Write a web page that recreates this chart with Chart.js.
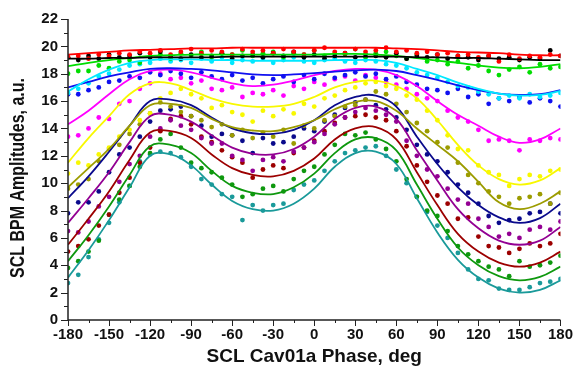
<!DOCTYPE html>
<html>
<head>
<meta charset="utf-8">
<script src="https://cdn.jsdelivr.net/npm/chart.js@4.4.0/dist/chart.umd.min.js"></script>
<style>
  html, body { margin: 0; padding: 0; background: #ffffff; }
  #contenedor { width: 579px; height: 372px; }
</style>
</head>
<body>
<div id="contenedor"><canvas id="grafico" width="579" height="372"></canvas></div>
<script>
// Fase (grados) donde se leen las curvas ajustadas y los puntos medidos
const phaseFit = [-180,-165,-150,-135,-120,-105,-90,-75,-60,-45,-30,-15,0,15,30,45,60,75,90,105,120,135,150,165,180];
const phasePts = [-180,-172.5,-165,-157.5,-150,-142.5,-135,-127.5,-120,-112.5,-105,-97.5,-90,-82.5,-75,-67.5,-60,-52.5,-45,-37.5,-30,-22.5,-15,-7.5,0,7.5,15,22.5,30,37.5,45,52.5,60,67.5,75,82.5,90,97.5,105,112.5,120,127.5,135,142.5,150,157.5,165,172.5,180];

// Curvas ajustadas (amplitud BPM, u.a.)
const fitRed     = [19.4,19.5,19.6,19.7,19.75,19.8,19.85,19.85,19.9,19.9,19.9,19.9,19.9,19.9,19.9,19.9,19.85,19.8,19.7,19.6,19.55,19.5,19.4,19.35,19.35];
const fitBlack   = [19.1,19.1,19.15,19.15,19.2,19.2,19.2,19.2,19.25,19.25,19.25,19.25,19.25,19.25,19.25,19.25,19.25,19.2,19.2,19.15,19.15,19.1,19.05,19.0,19.0];
const fitLime    = [18.55,18.8,19.0,19.15,19.3,19.35,19.4,19.4,19.4,19.4,19.4,19.4,19.4,19.45,19.45,19.4,19.3,19.15,18.95,18.8,18.6,18.45,18.4,18.5,18.7];
const fitCyan    = [16.7,17.6,18.3,18.8,19.0,19.05,19.05,19.0,19.0,18.95,18.95,18.95,18.95,19.0,19.0,19.0,18.8,18.35,17.9,17.35,16.9,16.55,16.4,16.45,16.75];
const fitBlue    = [17.0,17.4,17.8,18.1,18.35,18.4,18.35,18.25,18.1,17.95,17.9,17.95,18.05,18.15,18.25,18.3,18.2,17.9,17.55,17.15,16.8,16.55,16.45,16.5,16.8];
const fitMagenta = [14.3,15.3,16.5,17.6,18.2,18.3,18.1,17.7,17.3,17.1,17.2,17.5,17.9,18.2,18.35,18.3,17.9,17.1,16.0,15.0,14.2,13.4,12.95,13.2,14.0];
const fitYellow  = [11.5,13.3,14.9,16.5,17.3,17.3,16.8,16.2,15.8,15.6,15.6,15.8,16.3,17.0,17.4,17.5,17.1,16.2,14.6,12.8,11.3,10.3,9.9,10.2,11.1];
const fitOlive   = [9.7,11.1,12.5,14.2,15.7,15.8,15.5,14.7,14.1,13.85,13.8,14.1,14.6,15.4,15.95,16.0,15.3,14.0,12.8,11.6,10.1,8.6,8.1,8.5,9.4];
const fitNavy    = [8.9,10.5,12.3,14.2,16.0,16.1,15.7,14.8,14.0,13.65,13.6,13.9,14.6,15.7,16.3,16.4,15.6,13.4,11.4,9.7,8.4,7.5,7.1,7.45,8.5];
const fitPurple  = [7.1,8.9,10.8,13.0,14.9,15.0,14.5,13.5,12.6,12.15,12.1,12.5,13.4,14.7,15.5,15.6,14.7,12.4,10.2,8.1,6.7,5.8,5.5,5.8,6.8];
const fitDarkRed = [5.5,7.4,9.4,11.7,13.7,13.8,13.3,12.1,11.1,10.6,10.5,10.9,11.8,13.2,14.0,14.1,13.2,10.8,8.4,6.3,5.0,4.2,3.9,4.2,5.0];
const fitGreen   = [4.3,6.2,8.3,10.6,12.7,12.8,12.2,10.9,9.8,9.3,9.2,9.7,10.7,12.2,13.2,13.3,12.4,9.9,7.4,5.3,4.0,3.2,2.9,3.15,3.9];
const fitTeal    = [3.1,5.1,7.3,9.7,12.0,12.1,11.3,9.9,8.7,8.1,8.0,8.5,9.6,11.2,12.2,12.3,11.4,8.9,6.4,4.4,3.1,2.3,2.0,2.2,2.9];

// Puntos medidos
const ptsRed     = [19.2,19.3,19.1,19.4,19.3,19.5,19.4,19.6,19.5,19.7,19.4,19.6,19.8,19.5,19.7,19.6,19.4,19.8,19.6,19.7,19.5,19.8,19.6,19.4,19.7,19.9,19.6,19.5,19.8,19.6,19.7,19.9,19.6,19.7,19.5,19.6,19.4,19.5,19.3,19.4,19.2,19.3,18.9,19.4,19.1,19.3,19.2,19.4,19.3];
const ptsBlack   = [19.2,19.0,19.3,19.1,19.4,19.2,19.3,19.5,19.2,19.6,19.3,19.1,19.4,19.2,19.3,19.5,19.1,19.3,19.4,19.2,19.5,19.3,19.6,19.2,19.4,19.1,19.3,19.5,19.2,19.4,19.3,19.2,19.5,19.1,19.3,19.2,19.4,19.1,19.3,19.2,19.0,19.3,19.1,19.2,19.0,19.2,19.1,19.7,19.3];
const ptsLime    = [18.0,18.2,18.2,18.6,18.4,18.9,19.0,18.8,19.2,19.4,19.1,19.5,19.3,19.6,19.2,19.5,19.4,19.7,19.3,19.5,19.6,19.2,19.5,19.4,19.7,19.3,19.5,19.4,19.8,19.2,19.5,19.6,19.3,19.1,19.4,18.9,19.0,18.7,18.9,18.4,18.6,18.2,17.9,18.3,18.5,18.1,18.7,18.4,18.5];
const ptsCyan    = [16.6,16.9,17.3,17.8,18.0,18.3,18.6,18.7,18.8,19.1,18.9,19.0,18.8,19.1,18.9,19.2,18.8,19.0,18.9,19.1,18.8,19.0,19.2,18.9,18.8,19.0,19.1,18.9,18.8,19.0,18.9,18.7,18.6,18.4,18.1,17.9,17.7,17.4,17.1,17.0,16.7,16.5,16.2,16.4,16.2,16.5,16.3,16.4,16.6];
const ptsBlue    = [16.5,16.5,16.8,17.0,17.4,17.5,17.8,17.7,18.1,17.9,18.2,18.0,17.7,18.1,17.8,17.6,17.9,17.5,17.7,17.3,17.6,17.8,17.4,17.9,17.6,18.0,17.7,17.9,18.1,17.8,18.0,17.6,17.8,17.4,17.2,16.9,16.8,16.6,16.9,16.3,16.5,15.8,16.2,16.0,16.3,15.9,16.2,16.0,15.6];
const ptsMagenta = [13.4,13.5,14.0,14.8,14.7,15.8,16.0,16.9,17.3,18.0,17.6,17.7,17.3,17.5,16.9,16.8,17.0,16.3,16.6,16.5,16.8,16.4,17.1,16.9,17.4,17.2,17.6,17.8,17.5,17.9,17.7,17.4,17.2,16.9,16.5,16.2,16.0,15.3,14.8,14.5,13.9,13.1,13.2,13.1,12.4,13.2,13.1,13.3,13.2];
const ptsYellow  = [10.7,11.5,11.3,12.1,12.6,13.4,13.9,14.6,15.1,16.2,16.6,16.9,16.5,16.2,15.5,15.7,15.2,15.0,14.5,15.3,14.9,15.4,15.1,15.8,15.6,16.2,16.4,16.8,17.0,17.3,17.4,17.1,16.9,16.4,16.1,15.3,14.6,13.5,12.5,12.4,11.3,10.8,10.6,9.8,10.3,10.6,10.5,10.9,11.0];
const ptsOlive   = [9.6,9.9,10.3,11.6,12.5,12.8,13.6,14.3,15.1,15.9,15.6,15.2,14.9,14.6,14.1,14.3,13.5,13.9,13.3,13.7,13.4,13.9,12.9,14.2,14.0,14.6,14.9,15.6,15.7,16.1,16.7,16.5,15.8,15.2,14.4,13.8,13.0,12.6,11.5,10.6,10.0,9.4,9.0,8.5,8.9,9.0,9.2,8.5,9.3];
const ptsNavy    = [7.8,8.6,8.6,9.4,10.8,12.1,12.6,13.4,14.5,15.3,15.4,15.6,14.9,14.2,13.4,13.6,13.5,13.1,12.2,13.3,12.9,13.0,13.4,14.0,13.8,14.5,15.0,15.5,15.9,16.1,15.7,15.4,14.8,13.9,12.8,12.1,11.6,10.8,9.9,9.3,8.5,7.6,7.1,7.3,7.4,7.8,7.9,8.5,7.8];
const ptsPurple  = [6.5,6.4,7.2,8.3,9.0,10.1,11.4,12.0,13.4,14.0,14.6,14.2,13.9,13.3,12.9,12.9,12.0,11.7,10.9,11.7,11.9,11.6,12.3,12.6,13.0,13.6,14.3,14.8,15.2,15.5,15.3,15.0,14.5,13.1,12.0,11.0,10.5,9.6,8.8,8.5,7.4,6.8,6.1,6.3,6.0,6.6,6.8,6.6,7.2];
const ptsDarkRed = [5.0,5.4,5.9,6.9,7.7,9.3,10.4,11.5,12.6,13.8,14.7,14.9,14.3,13.4,13.0,12.4,11.9,11.5,10.4,11.0,11.3,11.1,12.2,12.6,13.1,13.8,14.4,14.8,14.9,15.0,14.8,14.6,13.8,12.7,11.3,10.1,9.1,8.5,7.4,7.5,6.1,5.4,5.3,4.9,5.2,5.6,5.4,5.6,6.3];
const ptsGreen   = [3.8,4.3,5.0,5.8,7.7,8.8,9.8,11.2,12.2,13.2,13.6,12.6,11.5,11.1,10.8,10.4,9.9,9.0,9.2,9.6,9.8,9.4,10.3,10.9,11.2,12.1,12.8,13.6,13.5,13.7,13.2,12.5,11.6,10.3,9.0,8.0,7.6,6.5,5.4,4.8,4.3,3.9,3.7,3.2,4.3,3.9,4.0,4.2,4.7];
const ptsTeal    = [2.7,3.3,4.6,5.9,7.1,8.6,9.8,11.6,12.1,12.3,12.2,11.9,11.2,10.3,9.9,9.2,9.0,7.3,8.4,8.0,8.4,8.5,9.5,9.9,10.2,10.9,11.6,12.2,12.4,12.6,12.7,12.0,11.0,10.0,9.0,7.9,6.9,6.0,4.9,3.7,3.0,2.9,2.3,2.2,2.2,2.4,2.7,2.8,3.0];

// Marcas de los ejes
const xTicks = [-180,-150,-120,-90,-60,-30,0,30,60,90,120,150,180];
const yTicks = [0,2,4,6,8,10,12,14,16,18,20,22];
const xTitle = 'SCL Cav01a Phase, deg';
const yTitle = 'SCL BPM Amplitudes, a.u.';

// cada serie: curva, puntos, color
const series = [
  [fitRed, ptsRed, '#ff0000'],
  [fitBlack, ptsBlack, '#000000'],
  [fitLime, ptsLime, '#00dd00'],
  [fitCyan, ptsCyan, '#00e8ff'],
  [fitBlue, ptsBlue, '#1010f0'],
  [fitMagenta, ptsMagenta, '#ff00ff'],
  [fitYellow, ptsYellow, '#f8f800'],
  [fitOlive, ptsOlive, '#9c9c00'],
  [fitNavy, ptsNavy, '#0a0a8c'],
  [fitPurple, ptsPurple, '#930093'],
  [fitDarkRed, ptsDarkRed, '#9c0000'],
  [fitGreen, ptsGreen, '#0e980e'],
  [fitTeal, ptsTeal, '#1a9a9a']
];

const datasets = [];
series.forEach(function(s) {
  datasets.push({
    data: phaseFit.map(function(f, i) { return {x: f, y: s[0][i]}; }),
    showLine: true, borderColor: s[2], borderWidth: 1.8, pointRadius: 0,
    tension: 0.4, order: 0
  });
  datasets.push({
    data: phasePts.map(function(f, i) { return {x: f, y: s[1][i]}; }),
    showLine: false, backgroundColor: s[2], borderWidth: 0, pointRadius: 2.4,
    order: 1
  });
});

// Dibuja ejes, marcas y el titulo vertical
const ejes = {
  id: 'ejes',
  afterDraw(chart) {
    const ctx = chart.ctx, area = chart.chartArea;
    const sx = chart.scales.x, sy = chart.scales.y;
    ctx.save();
    ctx.strokeStyle = '#222';
    ctx.lineWidth = 1.5;
    ctx.beginPath();
    ctx.moveTo(area.left, area.top);
    ctx.lineTo(area.left, area.bottom);
    ctx.lineTo(area.right, area.bottom);
    ctx.stroke();
    ctx.lineWidth = 1;
    ctx.beginPath();
    for (let v = 0; v <= 22; v++) {
      const py = Math.round(sy.getPixelForValue(v)) + 0.5;
      const len = v % 2 === 0 ? 7 : 4;
      ctx.moveTo(area.left - len, py);
      ctx.lineTo(area.left, py);
    }
    for (let v = -180; v <= 180; v += 15) {
      const px = Math.round(sx.getPixelForValue(v)) + 0.5;
      const len = v % 30 === 0 ? 6 : 3;
      ctx.moveTo(px, area.bottom);
      ctx.lineTo(px, area.bottom + len);
    }
    ctx.stroke();
    // titulo del eje y, algo comprimido a lo largo como en la figura
    ctx.translate(18, 178);
    ctx.rotate(-Math.PI / 2);
    ctx.scale(0.8, 1);
    ctx.font = 'bold 20px "Liberation Sans", Arial, sans-serif';
    ctx.textAlign = 'center';
    ctx.textBaseline = 'middle';
    ctx.fillStyle = '#111';
    ctx.fillText(yTitle, 0, 0);
    ctx.restore();
  }
};

new Chart(document.getElementById('grafico').getContext('2d'), {
  type: 'scatter',
  data: { datasets: datasets },
  options: {
    responsive: false,
    animation: false,
    devicePixelRatio: 1,
    layout: { padding: { top: 14, right: 11, left: 0, bottom: 0 } },
    plugins: { legend: { display: false }, tooltip: { enabled: false } },
    scales: {
      x: {
        type: 'linear', min: -180, max: 180,
        afterFit: function(scale) { scale.height = 52; },
        afterBuildTicks: function(scale) { scale.ticks = xTicks.map(function(v) { return {value: v}; }); },
        grid: { display: false, drawTicks: false },
        border: { display: false },
        ticks: { padding: 6, color: '#111', maxRotation: 0, font: { family: '"Liberation Sans", Arial, sans-serif', size: 15, weight: 'bold' } },
        title: { display: true, text: xTitle, color: '#111', padding: { top: 0, bottom: 4 },
                 font: { family: '"Liberation Sans", Arial, sans-serif', size: 19, weight: 'bold' } }
      },
      y: {
        type: 'linear', min: 0, max: 22,
        afterFit: function(scale) { scale.width = 68; },
        afterBuildTicks: function(scale) { scale.ticks = yTicks.map(function(v) { return {value: v}; }); },
        grid: { display: false, drawTicks: false },
        border: { display: false },
        ticks: { padding: 10, color: '#111', font: { family: '"Liberation Sans", Arial, sans-serif', size: 15, weight: 'bold' } }
      }
    }
  },
  plugins: [ejes]
});
</script>
</body>
</html>
